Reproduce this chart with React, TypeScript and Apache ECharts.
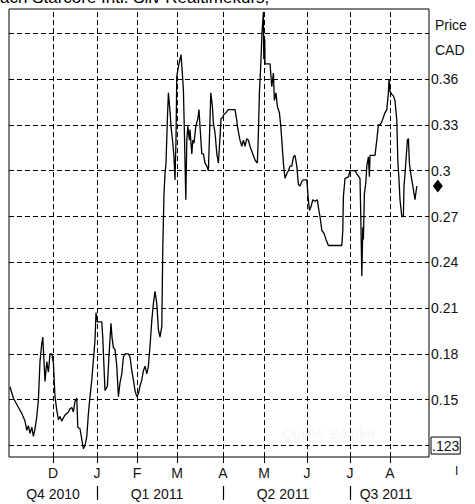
import React, { useEffect, useRef } from 'react';
import * as echarts from 'echarts';

// trading-day index (0 = start of Nov 2010) and close price in CAD
const days = [
  0.5, 2.2, 6.4, 8, 8.9, 9.7, 10.5, 11.4, 12.2, 13, 13.9, 14.7, 15.5, 16.4, 16.9, 17.2, 18, 18.9, 19.7, 20.5,
  21.4, 22.2, 23, 23.9, 24.7, 25.5, 26.4, 27.2, 28, 29.7, 30.5, 31.4, 32.2, 33, 33.9, 34.4, 35.5, 36.4, 37.2, 38,
  38.9, 39.7, 40.5, 41.4, 42.2, 43, 43.5, 44.2, 46.4, 46.9, 48, 49.2, 50, 51, 51.5, 52.2, 53, 53.9, 54.7, 55.5,
  56.4, 57.2, 58, 59.7, 60.5, 61.4, 62.2, 63, 63.9, 64.7, 65.5, 66.4, 67.2, 68, 68.9, 69.7, 70.5, 71.4, 72.2, 73,
  73.9, 74.7, 75.5, 76.4, 76.9, 77.5, 78, 78.5, 79.2, 79.7, 80.5, 81, 81.9, 82.5, 83, 83.5, 83.9, 84.7, 85.5, 86,
  86.5, 87.2, 87.7, 88.4, 88.9, 89.4, 90.2, 90.5, 91.4, 91.9, 92.5, 93.4, 94.4, 95, 95.5, 96.4, 97.2, 98, 98.9, 99.7,
  100.5, 100.9, 101.7, 102.2, 103, 103.9, 104.7, 105.5, 106, 106.9, 107.5, 108.5, 109.7, 113, 113.9, 114.2, 115.2, 115.5, 116.4, 117.2,
  118, 118.9, 119.7, 120.5, 121.9, 123, 124.2, 124.7, 125.2, 125.9, 126.5, 127.2, 127.4, 127.9, 128, 130.5, 131.4, 132.2, 132.7, 133.5,
  134.2, 135.2, 135.9, 136.4, 137.2, 138, 138.9, 139.7, 140.5, 141.4, 142.2, 143, 143.9, 144.7, 145.5, 146.4, 147.2, 148.9, 149.7, 150.2,
  150.9, 151.9, 153, 154.2, 154.7, 155.5, 156.4, 157.5, 158.5, 159.7, 166.4, 166.9, 167.2, 168, 169.7, 170.5, 173, 173.9, 175.5, 176,
  176.4, 176.9, 177.2, 177.7, 178.4, 178.9, 179.7, 180.2, 180.5, 183, 183.9, 184.7, 185.5, 186.4, 187.2, 188, 188.9, 189.7, 190, 190.5,
  191.4, 192.2, 193, 193.9, 194.4, 195, 195.5, 196.4, 197.2, 197.5, 198, 198.5, 199.2, 199.7, 200.2, 200.9, 201.9, 203, 203.9
];
const prices = [
  0.1585, 0.151, 0.141, 0.136, 0.130, 0.133, 0.128, 0.132, 0.126, 0.131, 0.139, 0.150, 0.175, 0.187, 0.191, 0.183, 0.162, 0.175, 0.168, 0.180,
  0.180, 0.174, 0.152, 0.143, 0.137, 0.139, 0.136, 0.138, 0.140, 0.142, 0.144, 0.145, 0.142, 0.149, 0.151, 0.132, 0.131, 0.124, 0.118, 0.120,
  0.126, 0.141, 0.152, 0.163, 0.176, 0.189, 0.207, 0.201, 0.201, 0.190, 0.156, 0.159, 0.179, 0.200, 0.191, 0.184, 0.183, 0.172, 0.152, 0.161,
  0.167, 0.178, 0.180, 0.180, 0.178, 0.169, 0.163, 0.156, 0.152, 0.154, 0.159, 0.163, 0.169, 0.172, 0.167, 0.172, 0.185, 0.202, 0.213, 0.221,
  0.213, 0.196, 0.191, 0.198, 0.250, 0.285, 0.298, 0.305, 0.334, 0.351, 0.339, 0.329, 0.318, 0.309, 0.294, 0.320, 0.362, 0.368, 0.373, 0.376,
  0.367, 0.353, 0.325, 0.281, 0.320, 0.329, 0.320, 0.327, 0.311, 0.320, 0.318, 0.329, 0.334, 0.340, 0.329, 0.311, 0.311, 0.305, 0.303, 0.300,
  0.333, 0.351, 0.342, 0.331, 0.325, 0.311, 0.305, 0.322, 0.334, 0.335, 0.337, 0.338, 0.340, 0.340, 0.333, 0.329, 0.322, 0.320, 0.316, 0.320,
  0.316, 0.321, 0.320, 0.316, 0.311, 0.307, 0.305, 0.325, 0.351, 0.370, 0.390, 0.404, 0.373, 0.386, 0.370, 0.370, 0.355, 0.364, 0.346, 0.351,
  0.342, 0.338, 0.329, 0.320, 0.305, 0.295, 0.298, 0.300, 0.303, 0.303, 0.309, 0.310, 0.303, 0.291, 0.290, 0.293, 0.294, 0.294, 0.281, 0.274,
  0.276, 0.281, 0.280, 0.281, 0.276, 0.270, 0.261, 0.259, 0.255, 0.251, 0.251, 0.261, 0.283, 0.295, 0.296, 0.300, 0.300, 0.298, 0.295, 0.263,
  0.231, 0.263, 0.255, 0.285, 0.292, 0.303, 0.309, 0.296, 0.310, 0.310, 0.320, 0.330, 0.330, 0.332, 0.335, 0.338, 0.340, 0.351, 0.360, 0.352,
  0.350, 0.349, 0.346, 0.333, 0.307, 0.294, 0.281, 0.270, 0.270, 0.290, 0.298, 0.307, 0.320, 0.321, 0.305, 0.298, 0.290, 0.281, 0.290
];

const monthTicks = [22, 44, 64, 84, 107, 127.5, 149, 170.5, 190.5];
const monthLabels = ['D', 'J', 'F', 'M', 'A', 'M', 'J', 'J', 'A'];
const quarterBounds = [44, 107, 170.5];
const quarterCenters = [22, 74, 137, 188.5];
const quarterLabels = ['Q4 2010', 'Q1 2011', 'Q2 2011', 'Q3 2011'];
const priceTicks = [0.12, 0.15, 0.18, 0.21, 0.24, 0.27, 0.3, 0.33, 0.36];
const gridPrices = [0.12, 0.15, 0.18, 0.21, 0.24, 0.27, 0.3, 0.33, 0.36, 0.39];
const lowLabel = '.123';
const titleText = 'ach Starcore Intl. Silv Realtimekurs,';

const FONT = 'Liberation Sans';

export default function App() {
  const ref = useRef<HTMLDivElement>(null);
  useEffect(() => {
    if (!ref.current) return;
    const chart = echarts.init(ref.current, null, { renderer: 'svg' });
    const data = days.map((d, i) => [d, prices[i]]);
    const last = data[data.length - 1];
    const findIdx = (arr: number[], v: number) => arr.findIndex((t) => Math.abs(t - v) < 0.01);
    chart.setOption({
      animation: false,
      backgroundColor: '#fff',
      grid: { left: 9, right: 46, top: 9, bottom: 47, show: true, borderColor: '#000', borderWidth: 1 },
      xAxis: [
        {
          type: 'value', min: 0, max: 210, position: 'bottom',
          axisLine: { show: false },
          splitLine: { show: false },
          axisTick: { show: true, customValues: monthTicks, length: 6, lineStyle: { color: '#000' } },
          axisLabel: {
            customValues: monthTicks, margin: 9, color: '#111', fontFamily: FONT, fontSize: 14,
            formatter: (v: number) => monthLabels[findIdx(monthTicks, v)] ?? '',
          },
        },
        {
          type: 'value', min: 0, max: 210, position: 'bottom', offset: 29,
          axisLine: { show: false },
          splitLine: { show: false },
          axisTick: { show: true, customValues: quarterBounds, length: 14, lineStyle: { color: '#000', width: 1.2 } },
          axisLabel: {
            customValues: quarterCenters, margin: 1, color: '#111', fontFamily: FONT, fontSize: 14,
            formatter: (v: number) => quarterLabels[findIdx(quarterCenters, v)] ?? '',
          },
        },
      ],
      yAxis: {
        type: 'value', min: 0.1125, max: 0.4059, position: 'right',
        axisLine: { show: false },
        splitLine: { show: false },
        axisTick: { show: true, customValues: priceTicks, length: 4, lineStyle: { color: '#000' } },
        axisLabel: {
          customValues: priceTicks, margin: 2, color: '#111', fontFamily: FONT, fontSize: 14,
          formatter: (v: number) => (Math.abs(v - 0.12) < 1e-6 ? `{box|${lowLabel}}` : String(+v.toFixed(2))),
          rich: {
            box: { borderColor: '#000', borderWidth: 1, padding: [2, 1, 1, 1], fontFamily: FONT, fontSize: 14, color: '#111' },
          },
        },
      },
      series: [
        {
          type: 'line', data, showSymbol: false, silent: true, z: 1,
          lineStyle: { opacity: 0 },
          markLine: {
            silent: true, symbol: 'none', animation: false,
            label: { show: false },
            lineStyle: { color: '#000', type: [5, 3], width: 1 },
            emphasis: { disabled: true },
            data: [
              ...monthTicks.map((x) => ({ xAxis: x })),
              ...gridPrices.map((y) => ({ yAxis: y })),
            ],
          },
        },
        {
          type: 'line', data, showSymbol: false, z: 10, clip: false,
          lineStyle: { color: '#000', width: 1.3 },
          markPoint: {
            silent: true,
            data: [{ coord: last, symbol: 'diamond', symbolSize: [10, 13], symbolOffset: [21, 0], itemStyle: { color: '#000' }, label: { show: false } }],
          },
        },
      ],
      graphic: [
        { type: 'text', left: 0, top: -11, style: { text: titleText, fontFamily: FONT, fontSize: 17, fill: '#000' } },
        { type: 'text', left: 435, top: 18, style: { text: 'Price', fontFamily: FONT, fontSize: 14, fill: '#111' } },
        { type: 'text', left: 435, top: 43, style: { text: 'CAD', fontFamily: FONT, fontSize: 14, fill: '#111' } },
        { type: 'text', left: 455, top: 465, style: { text: 'I', fontFamily: FONT, fontSize: 12, fill: '#111' } },
        { type: 'text', left: 282, top: 427, style: { text: 'Quelle: Baader', fontFamily: FONT, fontSize: 14, fill: '#f5f5f5' } },
      ],
    });
    return () => chart.dispose();
  }, []);
  return <div ref={ref} style={{ position: 'absolute', left: 0, top: 0, width: 475, height: 504 }} />;
}
